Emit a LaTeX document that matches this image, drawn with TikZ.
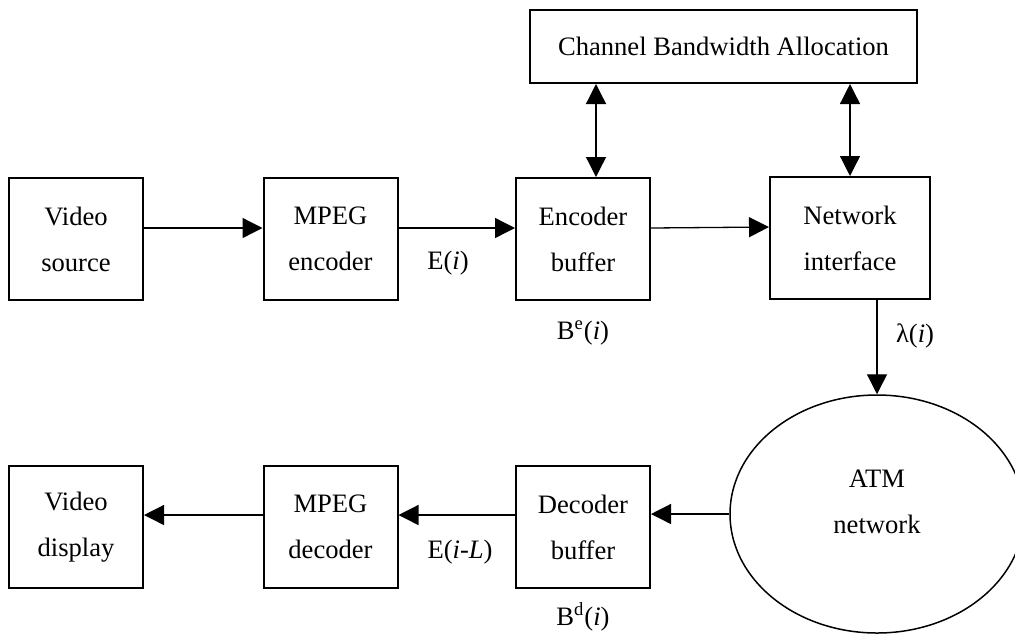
\documentclass[tikz,border=0pt]{standalone}
\usepackage{fontspec}
\setmainfont{Liberation Serif}
\usetikzlibrary{arrows.meta, shapes.geometric}
\newcommand{\blockfont}{\fontsize{13.3}{23}\selectfont}
\tikzset{
    >={Triangle[length=10pt, width=10pt]},
    block/.style={draw, line width=1pt, minimum width=67pt, minimum height=61pt,
        align=center, font=\blockfont},
    wideblock/.style={block, minimum width=80pt},
    netcloud/.style={ellipse, draw, line width=0.75pt, minimum width=147pt, minimum height=119pt},
    link/.style={line width=0.65pt},
    signal/.style={font=\blockfont},
}

\begin{document}
\begin{tikzpicture}[x=0.5pt, y=-0.5pt]
        \clip (0,0) rectangle (1015,633);
        % sender side
        \node[block] (vsrc) at (76,239) {Video\\source};
        \node[block] (menc) at (330.5,239) {MPEG\\encoder};
        \node[block] (ebuf) at (583,239) {Encoder\\buffer};
        \node[wideblock] (nif) at (850,238) {Network\\interface};
        \node[block, minimum width=193.5pt, minimum height=36.5pt] (cba) at (723.5,46.5)
            {Channel Bandwidth Allocation};
        % network and receiver side
        \node[netcloud] (atm) at (877,514) {};
        \node[align=center, font=\blockfont] (atmtxt) at (877,502) {ATM\\network};
        \node[block] (dbuf) at (583,527) {Decoder\\buffer};
        \node[block] (mdec) at (330.5,527) {MPEG\\decoder};
        \node[block] (vdsp) at (76,527) {Video\\display};
        % signals
        \node[signal] (e) at (448,263) {E(\textit{i})};
        \node[signal] (be) at (583,333) {B\textsuperscript{e}(\textit{i})};
        \node[signal] (lam) at (915,336) {λ(\textit{i})};
        \node[signal] (eL) at (460,552) {E(\textit{i-L})};
        \node[signal] (bd) at (583,617) {B\textsuperscript{d}(\textit{i})};
        % connectors
        \foreach \a/\b in {vsrc/menc, menc/ebuf, ebuf/nif}
            \draw[->, link] ([yshift=5.5pt]\a.east) -- ([yshift=5.5pt]\b.west);
        \foreach \a/\b in {dbuf/mdec, mdec/vdsp}
            \draw[->, link] ([yshift=6pt]\a.west) -- ([yshift=6pt]\b.east);
        \draw[->, link] (atm.west) -- (atm.west -| dbuf.east);
        \draw[->, link] ([xshift=13.5pt]nif.south) -- (atm.north);
        \draw[<->, link] ([xshift=6.5pt]ebuf.north) -- ([xshift=6.5pt]ebuf.north |- cba.south);
        \draw[<->, link] (nif.north) -- (nif.north |- cba.south);
    \end{tikzpicture}
\end{document}
